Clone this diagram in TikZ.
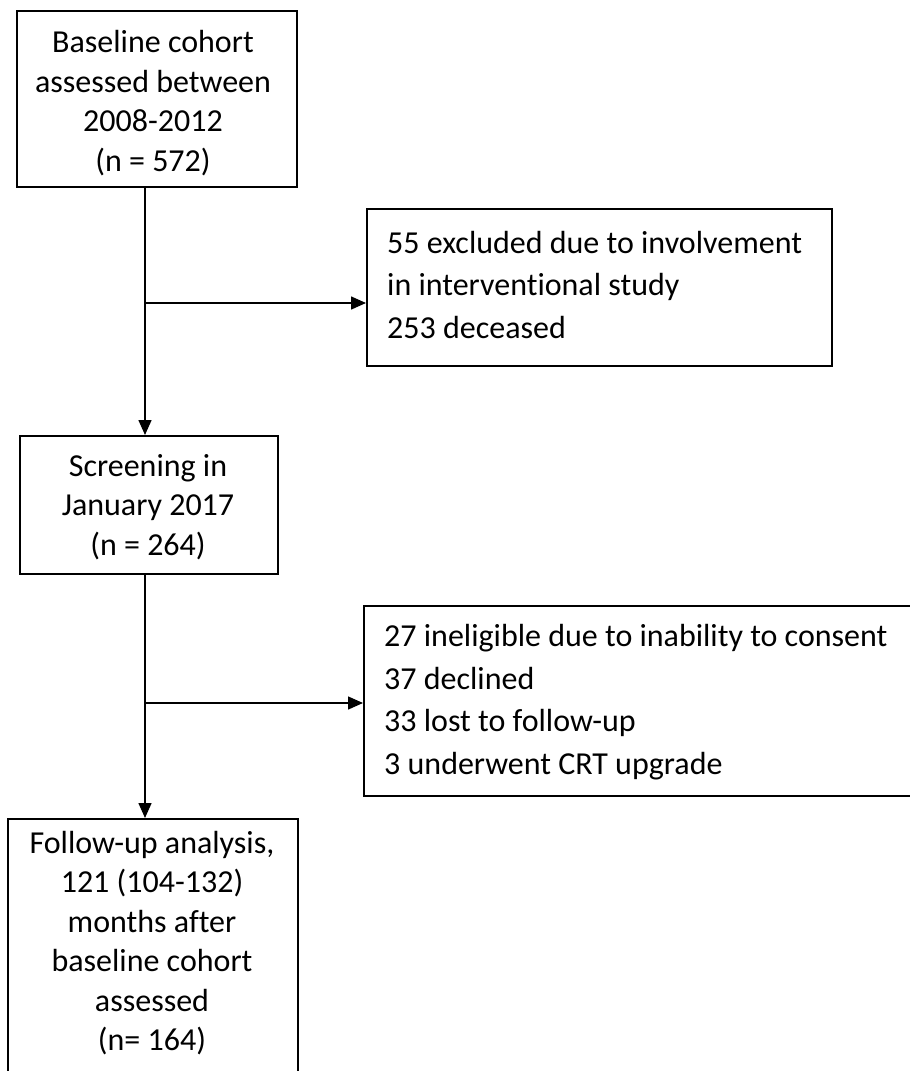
\documentclass[tikz,border=0pt]{standalone}
\usepackage{fontspec}
\setmainfont{Carlito}[Ligatures=NoCommon]
\usetikzlibrary{arrows.meta}
\begin{document}
\begin{tikzpicture}[x=1pt,y=-1pt,
  boxshape/.style={draw=black,line width=1.5pt,rectangle,inner sep=0pt,anchor=north west},
  ctext/.style={align=center,inner sep=0pt,font=\fontsize{32}{39.5}\selectfont},
  ltext/.style={align=left,inner sep=0pt,anchor=west,font=\fontsize{32}{42.5}\selectfont},
  arr/.style={line width=1.5pt,-{Triangle[length=15pt,width=13pt]}},
  conn/.style={line width=1.5pt}]
\useasboundingbox (0,0) rectangle (910,1071);
\clip (0,0) rectangle (910,1071);
% boxes
\node[boxshape,minimum width=280pt,minimum height=176pt] (b1) at (16,10) {};
\node[boxshape,minimum width=465pt,minimum height=157pt] (b2) at (366,208) {};
\node[boxshape,minimum width=258pt,minimum height=138pt] (b3) at (19,435) {};
\node[boxshape,minimum width=560pt,minimum height=190pt] (b4) at (363,605) {};
\node[boxshape,minimum width=290pt,minimum height=270pt] (b5) at (7,818) {};
% texts
\node[ctext] (t1) at (153,103) {Baseline cohort\\assessed between\\2008-2012\\(n = 572)};
\node[ctext] (t2) at (148,507) {Screening in\\January 2017\\(n = 264)};
\node[ctext] (t5) at (152,943) {Follow-up analysis,\\121 (104-132)\\months after\\baseline cohort\\assessed\\(n= 164)};
\node[ltext] (t3) at (387,285) {55 excluded due to involvement\\in interventional study\\253 deceased};
\node[ltext] (t4) at (384,702) {27 ineligible due to inability to consent\\37 declined\\33 lost to follow-up\\3 underwent CRT upgrade};
% connectors
\coordinate (j1) at (145,303);
\coordinate (j2) at (145,703);
\draw[arr] (b1.south -| j1) -- (b3.north -| j1);
\draw[arr] (j1) -- (j1 -| b2.west);
\draw[arr] (b3.south -| j2) -- (b5.north -| j2);
\draw[arr] (j2) -- (j2 -| b4.west);
\end{tikzpicture}
\end{document}
